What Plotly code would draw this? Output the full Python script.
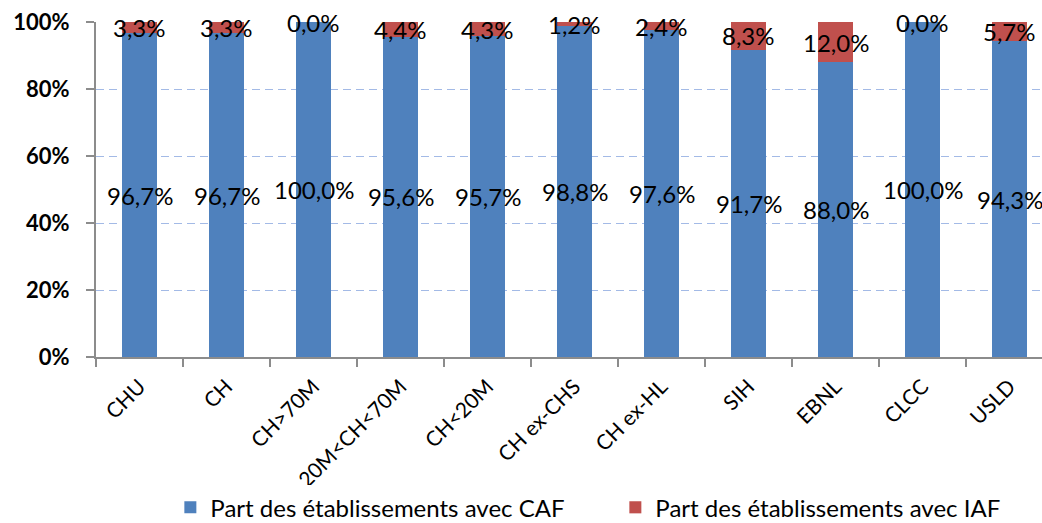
import plotly.graph_objects as go

# Établissement categories and shares (%)
categories = ["CHU", "CH", "CH>70M", "20M<CH<70M", "CH<20M", "CH ex-CHS",
              "CH ex-HL", "SIH", "EBNL", "CLCC", "USLD"]
caf_share = [96.7, 96.7, 100.0, 95.6, 95.7, 98.8, 97.6, 91.7, 88.0, 100.0, 94.3]
iaf_share = [3.3, 3.3, 0.0, 4.4, 4.3, 1.2, 2.4, 8.3, 12.0, 0.0, 5.7]
y_ticks = [0, 20, 40, 60, 80, 100]
y_tick_labels = ["0%", "20%", "40%", "60%", "80%", "100%"]

CAF_NAME = "Part des établissements avec CAF"
IAF_NAME = "Part des établissements avec IAF"
BLUE = "#4F81BD"
RED = "#C0504D"
FONT = "Lato, 'Open Sans', sans-serif"


def pct(v):
    return f"{v:.1f}".replace(".", ",") + "%"


fig = go.Figure()
fig.add_trace(go.Bar(x=categories, y=caf_share, name=CAF_NAME,
                     marker=dict(color=BLUE, line=dict(width=0)), width=0.4))
fig.add_trace(go.Bar(x=categories, y=iaf_share, name=IAF_NAME,
                     marker=dict(color=RED, line=dict(width=0)), width=0.4))

# Value labels centred on each stacked segment
label_font = dict(family=FONT, size=24, color="black")
annotations = []
for cat, caf, iaf in zip(categories, caf_share, iaf_share):
    annotations.append(dict(x=cat, y=caf / 2, text=pct(caf), showarrow=False,
                            font=label_font, xanchor="center", yanchor="middle"))
    annotations.append(dict(x=cat, y=caf + iaf / 2, text=pct(iaf), showarrow=False,
                            font=label_font, xanchor="center", yanchor="middle"))

fig.update_layout(
    barmode="stack",
    width=1042, height=523,
    margin=dict(l=96, r=0, t=22, b=166, autoexpand=False),
    paper_bgcolor="white", plot_bgcolor="white",
    font=dict(family=FONT, size=20, color="black"),
    annotations=annotations,
    showlegend=True,
    legend=dict(orientation="h", x=0.549, y=-0.45, xanchor="center", yanchor="middle",
                font=dict(family=FONT, size=24, color="black"),
                itemwidth=30, entrywidth=400, entrywidthmode="pixels",
                traceorder="normal"),
    xaxis=dict(
        range=[-0.5, -0.5 + 946 / 87],
        tickangle=-45, tickfont=dict(family=FONT, size=21, color="black"),
        showline=True, linecolor="#8C8C8C", linewidth=2,
        ticks="outside", ticklen=8, tickcolor="#8C8C8C", tickwidth=2,
        tickson="boundaries", showgrid=False, fixedrange=True,
        ticklabelstandoff=7,
    ),
    yaxis=dict(
        range=[0, 100], tickvals=y_ticks, ticktext=y_tick_labels,
        tickfont=dict(family=FONT, size=22, color="black", weight="bold"),
        showline=True, linecolor="#8C8C8C", linewidth=2,
        ticks="outside", ticklen=8, tickcolor="#8C8C8C", tickwidth=2,
        showgrid=True, gridcolor="#A3BAE6", griddash="8px,5px", gridwidth=1,
        zeroline=False, fixedrange=True, ticklabelstandoff=12,
    ),
)

fig.write_html("out.html", config={"displayModeBar": False})
